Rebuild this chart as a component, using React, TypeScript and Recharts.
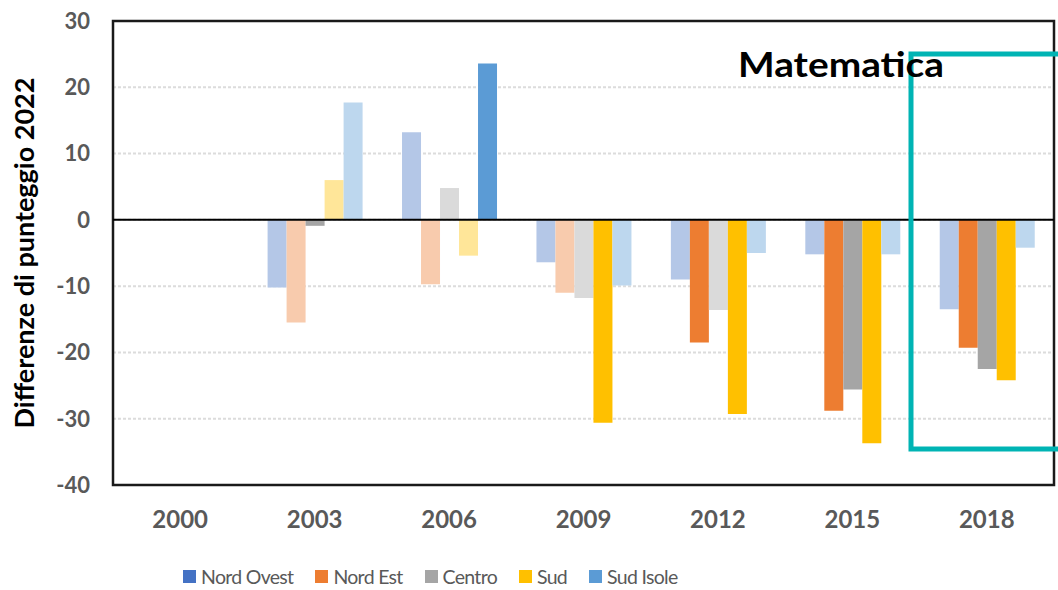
import React from "react";
import {
  BarChart,
  Bar,
  Cell,
  XAxis,
  YAxis,
  CartesianGrid,
  Legend,
  ReferenceLine,
  ReferenceArea,
} from "recharts";

const years = ["2000", "2003", "2006", "2009", "2012", "2015", "2018"];

// differences in score vs 2022 (null = no data)
const nordOvest = [null, -10.2, 13.2, -6.4, -9.0, -5.2, -13.5];
const nordEst = [null, -15.5, -9.7, -11.0, -18.5, -28.8, -19.3];
const centro = [null, -0.9, 4.8, -11.8, -13.6, -25.6, -22.5];
const sud = [null, 6.0, -5.4, -30.6, -29.3, -33.7, -24.2];
const sudIsole = [null, 17.7, 23.6, -9.9, -5.0, -5.2, -4.2];

// significant differences are drawn in full colour, the others pale
const nordOvestSig = [false, false, false, false, false, false, false];
const nordEstSig = [false, false, false, false, true, true, true];
const centroSig = [false, true, false, false, false, true, true];
const sudSig = [false, false, false, true, true, true, true];
const sudIsoleSig = [false, false, true, false, false, false, false];

const yTicks = [-40, -30, -20, -10, 0, 10, 20, 30];

const series = [
  { key: "nordOvest", name: "Nord Ovest", color: "#4472c4", pale: "#b4c7e7", values: nordOvest, sig: nordOvestSig },
  { key: "nordEst", name: "Nord Est", color: "#ed7d31", pale: "#f8cbad", values: nordEst, sig: nordEstSig },
  { key: "centro", name: "Centro", color: "#a5a5a5", pale: "#dadada", values: centro, sig: centroSig },
  { key: "sud", name: "Sud", color: "#ffc000", pale: "#ffe699", values: sud, sig: sudSig },
  { key: "sudIsole", name: "Sud Isole", color: "#5b9bd5", pale: "#bdd7ee", values: sudIsole, sig: sudIsoleSig },
];

const rows = years.map((year, i) => {
  const row: Record<string, string | number | null> = { year };
  series.forEach((s) => {
    row[s.key] = s.values[i];
  });
  return row;
});

const LegendContent = () => (
  <div
    style={{
      display: "flex",
      alignItems: "center",
      gap: 22,
      fontFamily: "Lato",
      fontSize: 19.5,
      letterSpacing: -0.7,
      color: "#595959",
    }}
  >
    {series.map((s) => (
      <div key={s.key} style={{ display: "flex", alignItems: "center" }}>
        <span
          style={{
            display: "inline-block",
            width: 13,
            height: 13,
            background: s.color,
            marginRight: 5,
          }}
        />
        <span>{s.name}</span>
      </div>
    ))}
  </div>
);

export default function App() {
  return (
    <div
      style={{
        position: "absolute",
        left: 0,
        top: 0,
        width: 1058,
        height: 590,
        overflow: "hidden",
        background: "#fff",
        fontFamily: "Lato",
      }}
    >
      <BarChart
        width={1058}
        height={590}
        data={rows}
        margin={{ top: 21, right: 4, left: 0, bottom: 0 }}
        barCategoryGap="15%"
        barGap={0}
      >
        <CartesianGrid
          vertical={false}
          stroke="#dcdcdc"
          strokeWidth={2}
          strokeDasharray="3 2"
        />
        <XAxis
          dataKey="year"
          height={75}
          axisLine={false}
          tickLine={false}
          tickSize={0}
          tickMargin={26}
          tick={{ fill: "#595959", fontSize: 24, fontWeight: 700 }}
        />
        <YAxis
          type="number"
          domain={[-40, 30]}
          ticks={yTicks}
          width={113}
          axisLine={false}
          tickLine={false}
          tickSize={0}
          tickMargin={23}
          tick={{ fill: "#595959", fontSize: 22, fontWeight: 700 }}
          label={{
            value: "Differenze di punteggio 2022",
            angle: -90,
            position: "center",
            dx: -32,
            fill: "#000",
            fontSize: 27,
            fontWeight: 700,
          }}
        />
        <Legend
          verticalAlign="bottom"
          height={30}
          content={LegendContent}
          wrapperStyle={{ left: 183, width: "auto", bottom: -5 }}
        />
        {series.map((s) => (
          <Bar
            key={s.key}
            dataKey={s.key}
            name={s.name}
            fill={s.color}
            isAnimationActive={false}
          >
            {rows.map((_, i) => (
              <Cell key={i} fill={s.sig[i] ? s.color : s.pale} />
            ))}
          </Bar>
        ))}
        <ReferenceLine y={0} stroke="#000" strokeWidth={2} />
        <ReferenceArea
          y1={-40}
          y2={30}
          fill="none"
          stroke="#1a1a1a"
          strokeWidth={2.5}
          ifOverflow="visible"
        />
      </BarChart>
      <svg
        width={1058}
        height={590}
        style={{ position: "absolute", left: 0, top: 0, pointerEvents: "none" }}
      >
        <rect
          x={911}
          y={54}
          width={300}
          height={395}
          fill="none"
          stroke="#00b4b4"
          strokeWidth={5}
        />
        <text
          x={738}
          y={77}
          fontFamily="Lato"
          fontWeight={700}
          fontSize={34}
          fill="#000"
          textLength={206}
          lengthAdjust="spacingAndGlyphs"
        >
          Matematica
        </text>
      </svg>
    </div>
  );
}
